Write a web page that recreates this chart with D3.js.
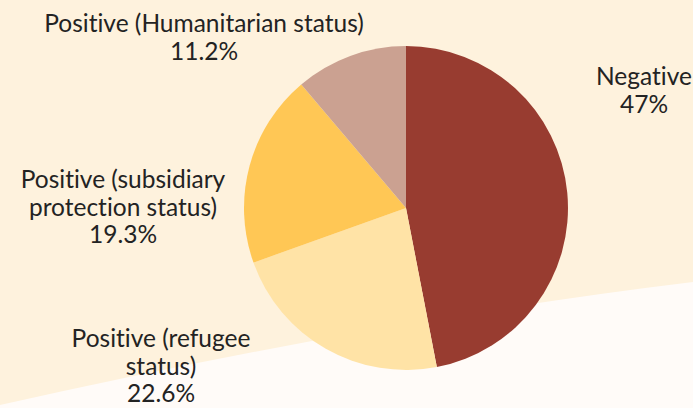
<!DOCTYPE html>
<html>
<head>
<meta charset="utf-8">
<script src="https://cdn.jsdelivr.net/npm/d3@7"></script>
<style>
  html, body { margin: 0; padding: 0; background: #fef2dd; }
  svg { display: block; }
  text { font-family: "Lato", "Open Sans", sans-serif; fill: #232323; font-variant-ligatures: none; font-feature-settings: "liga" 0; }
</style>
</head>
<body>
<svg id="chart" width="693" height="408"></svg>
<script>
// Asylum decision outcomes (share of decisions, %)
const categories = [
  "Negative",
  "Positive (refugee status)",
  "Positive (subsidiary protection status)",
  "Positive (Humanitarian status)"
];
const values = [47, 22.6, 19.3, 11.2];
const valueLabels = ["47%", "22.6%", "19.3%", "11.2%"];
const labelLines = [
  ["Negative"],
  ["Positive (refugee", "status)"],
  ["Positive (subsidiary", "protection status)"],
  ["Positive (Humanitarian status)"]
];
const colors = ["#983c30", "#ffe3a6", "#ffc755", "#cba191"];

const width = 693, height = 408;
const svg = d3.select("#chart");

// Background: cream field with a pale sweep across the lower part
svg.append("rect").attr("width", width).attr("height", height).attr("fill", "#fef2dd");
const sweep = d3.path();
sweep.moveTo(0, 405);
sweep.quadraticCurveTo(379, 320, width, 282);
sweep.lineTo(width, height);
sweep.lineTo(0, height);
sweep.closePath();
svg.append("path").attr("d", sweep.toString()).attr("fill", "#fffbf8");

// Pie
const cx = 406, cy = 208, radius = 162;
const pie = d3.pie().sort(null).value(d => d)(values);
const arc = d3.arc().innerRadius(0).outerRadius(radius);
const color = d3.scaleOrdinal().domain(categories).range(colors);

const g = svg.append("g").attr("transform", `translate(${cx},${cy})`);
g.selectAll("path.slice")
  .data(pie)
  .join("path")
  .attr("class", "slice")
  .attr("d", arc)
  .attr("fill", (d, i) => color(categories[i]));

// Data labels, placed around the pie (anchor = centre x, first baseline)
const labelAnchors = [
  { x: 644, y: 85 },
  { x: 161, y: 347 },
  { x: 123, y: 188 },
  { x: 204, y: 32 }
];
const lineHeight = 27.5;
const fontSize = 24.5;

pie.forEach((d, i) => {
  const a = labelAnchors[i];
  const lines = labelLines[i].concat([valueLabels[i]]);
  const t = svg.append("text")
    .attr("text-anchor", "middle")
    .attr("font-size", fontSize);
  lines.forEach((ln, k) => {
    t.append("tspan").attr("x", a.x).attr("y", a.y + k * lineHeight).text(ln);
  });
});
</script>
</body>
</html>
